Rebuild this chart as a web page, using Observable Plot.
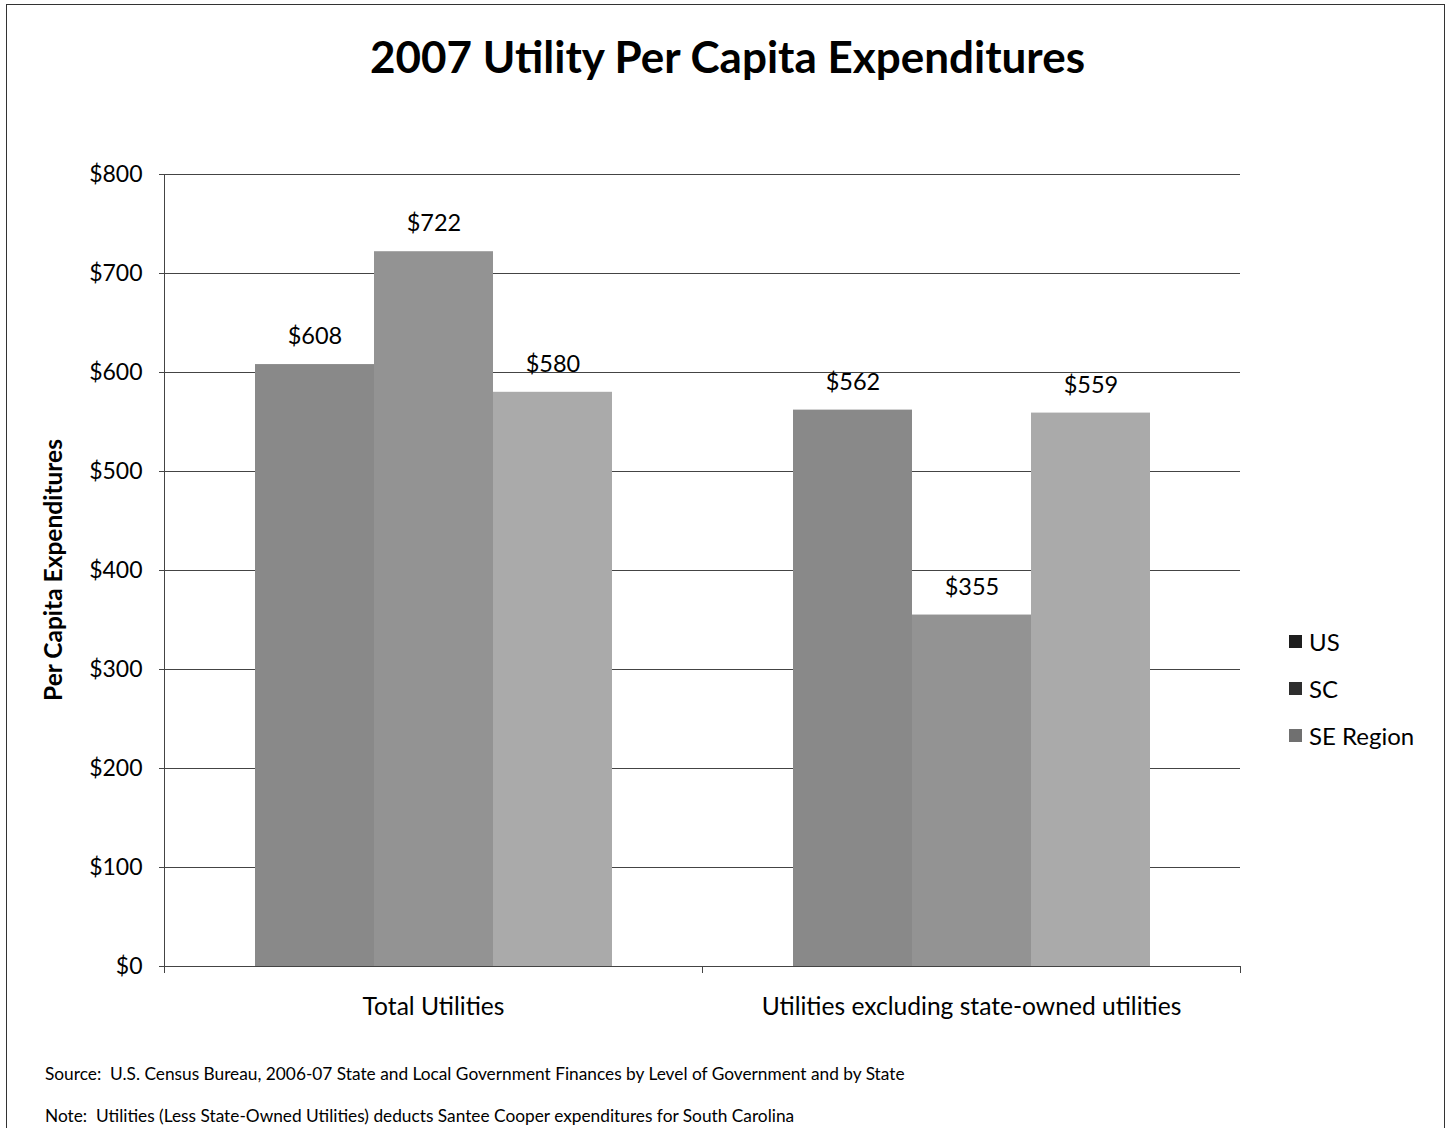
<!DOCTYPE html>
<html>
<head>
<meta charset="utf-8">
<script src="https://cdn.jsdelivr.net/npm/d3@7"></script>
<script src="https://cdn.jsdelivr.net/npm/@observablehq/plot@0.6"></script>
<style>
  body { margin: 0; background: #fff; font-family: Lato, "Open Sans", sans-serif; }
  #wrap { position: relative; width: 1455px; height: 1128px; overflow: hidden; background: #fff; }
  #border { position: absolute; left: 6px; top: 4px; width: 1439px; height: 1200px; border: 1.5px solid #333; box-sizing: border-box; }
  #title { position: absolute; left: 0; width: 1455px; top: 30px; text-align: center; font-weight: 700; font-size: 44px; color: #000; }
  #chart { position: absolute; left: 0; top: 150px; }
  #ylabel { position: absolute; left: 52px; top: 570px; transform: translate(-50%, -50%) rotate(-90deg); font-weight: 700; font-size: 24.5px; white-space: nowrap; color: #000; }
  #legend { position: absolute; left: 1289px; top: 618px; }
  .li { display: flex; align-items: center; height: 47px; font-size: 24px; color: #000; }
  .sw { width: 13px; height: 13px; margin-right: 7px; }
  .cap { position: absolute; left: 45px; font-size: 17.3px; color: #000; line-height: 20px; }
</style>
</head>
<body>
<div id="wrap">
  <div id="border"></div>
  <div id="title">2007 Utility Per Capita Expenditures</div>
  <div id="chart"></div>
  <div id="ylabel">Per Capita Expenditures</div>
  <div id="legend"></div>
  <div class="cap" style="top:1064px">Source:&nbsp; U.S. Census Bureau, 2006-07 State and Local Government Finances by Level of Government and by State</div>
  <div class="cap" style="top:1106px">Note:&nbsp; Utilities (Less State-Owned Utilities) deducts Santee Cooper expenditures for South Carolina</div>
</div>
<script>
const categories = ["Total Utilities", "Utilities excluding state-owned utilities"];
const series = ["US", "SC", "SE Region"];
const usValues = [608, 562];
const scValues = [722, 355];
const seValues = [580, 559];
const yTicks = [0, 100, 200, 300, 400, 500, 600, 700, 800];
const barColors = ["#898989", "#939393", "#aaaaaa"];
const legendColors = ["#1e1e1e", "#2e2e2e", "#707070"];

const data = [];
categories.forEach((c, i) => {
  data.push({category: c, series: "US", value: usValues[i]});
  data.push({category: c, series: "SC", value: scValues[i]});
  data.push({category: c, series: "SE Region", value: seValues[i]});
});

const fmt = d => "$" + d;

const chart = Plot.plot({
  width: 1455,
  height: 890,
  marginLeft: 163,
  marginRight: 215,
  marginTop: 24,
  marginBottom: 74,
  style: {fontFamily: "Lato, 'Open Sans', sans-serif", color: "#000", background: "transparent"},
  fx: {domain: categories, padding: 0, label: null},
  x: {domain: series, paddingInner: 0, paddingOuter: 0.75, axis: null},
  y: {domain: [0, 800], axis: null},
  color: {domain: series, range: barColors},
  marks: [
    Plot.gridY(yTicks, {stroke: "#444", strokeOpacity: 1, strokeWidth: 1}),
    Plot.frame({anchor: "left", facet: "super", stroke: "#444", strokeWidth: 1}),
    Plot.axisY(yTicks, {anchor: "left", tickSize: 5, tickPadding: 17, tickFormat: fmt, fontSize: 23, stroke: "#444", label: null}),
    Plot.barY(data, {fx: "category", x: "series", y: "value", fill: "series"}),
    Plot.ruleY([0], {stroke: "#444", strokeWidth: 1.2}),
    Plot.frame({anchor: "left", stroke: "#444", strokeWidth: 1, insetTop: 792, insetBottom: -6}),
    Plot.frame({anchor: "right", stroke: "#444", strokeWidth: 1, insetTop: 792, insetBottom: -6}),
    Plot.text(data, {fx: "category", x: "series", y: "value", text: d => fmt(d.value), dy: -28, fontSize: 23.5, fill: "#000"}),
    Plot.axisFx({anchor: "bottom", tickSize: 0, tickPadding: 31, fontSize: 24.6, label: null})
  ]
});
document.getElementById("chart").appendChild(chart);

const legend = document.getElementById("legend");
series.forEach((s, i) => {
  const row = document.createElement("div");
  row.className = "li";
  const sw = document.createElement("div");
  sw.className = "sw";
  sw.style.background = legendColors[i];
  row.appendChild(sw);
  const t = document.createElement("span");
  t.textContent = s;
  row.appendChild(t);
  legend.appendChild(row);
});
</script>
</body>
</html>
